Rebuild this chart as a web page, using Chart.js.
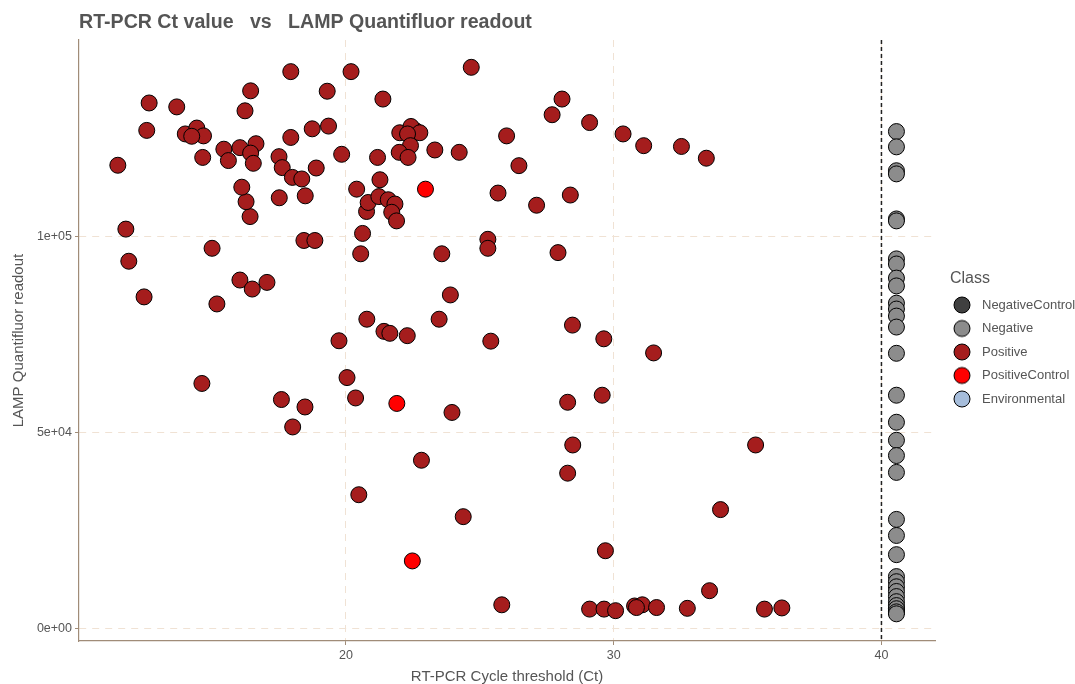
<!DOCTYPE html>
<html>
<head>
<meta charset="utf-8">
<script src="https://cdn.jsdelivr.net/npm/chart.js@4.4.1/dist/chart.umd.min.js"></script>
<style>
  html, body { margin: 0; padding: 0; background: #ffffff; }
  canvas { display: block; }
</style>
</head>
<body>
<canvas id="chart" width="1075" height="684"></canvas>
<script>
// ---- data -------------------------------------------------------------
const classNames  = ['NegativeControl', 'Negative', 'Positive', 'PositiveControl', 'Environmental'];
const classColors = ['#404040', '#8C8C8C', '#A51D1D', '#FF0000', '#A6BDDB'];

// Samples with no amplification are plotted at the cut-off column
const negativeCt = [40.56, 40.56, 40.56, 40.56, 40.56, 40.56, 40.56, 40.56, 40.56, 40.56, 40.56,
                    40.56, 40.56, 40.56, 40.56, 40.56, 40.56, 40.56, 40.56, 40.56, 40.56, 40.56,
                    40.56, 40.56, 40.56, 40.56, 40.56, 40.56, 40.56, 40.56, 40.56, 40.56, 40.56];
const negativeReadout = [126900, 123000, 116900, 116100, 104600, 104100, 94400, 93100, 89500, 87500, 83100,
                         81600, 79800, 77000, 70300, 59600, 52700, 48100, 44200, 39900, 27900, 23800,
                         18900, 13300, 12000, 10700, 9500, 8200, 6900, 5900, 5100, 4300, 3800];

const negativeControlCt = [40.56, 40.56];
const negativeControlReadout = [4300, 5100];

const positiveCt = [11.48, 11.78, 11.89, 12.46, 12.65, 12.56, 13.68, 14.00, 14.43, 14.68,
                    14.24, 14.65, 14.62, 15.00, 15.18, 15.44, 15.61, 16.04, 16.04, 16.23,
                    16.44, 16.64, 16.44, 16.54, 16.50, 17.05, 16.42, 16.27, 16.11, 17.50,
                    17.62, 18.00, 18.35, 18.89, 17.51, 18.48, 17.94, 17.94, 18.74, 19.30,
                    19.35, 19.84, 20.19, 17.59, 18.47, 18.01, 18.43, 18.84, 19.74, 20.04,
                    20.40, 20.62, 20.55, 20.36, 20.48, 20.78, 20.77, 20.83, 21.23, 21.27,
                    21.18, 21.38, 21.42, 21.64, 21.58, 21.83, 21.71, 21.89, 22.01, 22.43,
                    22.76, 22.30, 22.41, 21.99, 22.32, 22.29, 23.32, 24.23, 23.48, 23.58,
                    23.90, 23.96, 22.82, 24.38, 24.68, 25.30, 25.30, 25.41, 25.68, 26.00,
                    26.46, 27.12, 27.70, 28.07, 27.92, 28.38, 28.46, 28.28, 28.47, 28.28,
                    29.10, 29.63, 29.57, 29.69, 30.35, 31.12, 31.49, 32.53, 33.46, 33.58,
                    33.99, 35.30, 29.10, 29.64, 30.07, 30.78, 31.07, 30.85, 31.60, 32.75,
                    35.63, 36.28, 25.82];
const positiveReadout = [118300, 102000, 93800, 84700, 134200, 127200, 133200, 126300, 127800, 125800,
                         125700, 120300, 62600, 97100, 82900, 122400, 119500, 122800, 89000, 132200,
                         137300, 123800, 121400, 118800, 86700, 88400, 105200, 109000, 112700, 120500,
                         117700, 115200, 114800, 117600, 110000, 110500, 142200, 125400, 127600, 137200,
                         128300, 121100, 142200, 58500, 56600, 51500, 99100, 99100, 73500, 64100,
                         112200, 100900, 95700, 58900, 34200, 79000, 106500, 108800, 110300, 114600,
                         120300, 135200, 75900, 75400, 109500, 108400, 106300, 104100, 126600, 128200,
                         126600, 126300, 123300, 121600, 120300, 74800, 122200, 121600, 79000, 95700,
                         85200, 55200, 43000, 28600, 143300, 99400, 97100, 73400, 111200, 125800,
                         118200, 108100, 131200, 135200, 96000, 110700, 77500, 57800, 46900, 39700,
                         129200, 74000, 59600, 19900, 126300, 123300, 70400, 123100, 120100, 9700,
                         30400, 46900, 5000, 5000, 4600, 5800, 6100, 5400, 5400, 5200,
                         5000, 5300, 6100];

const positiveControlCt = [22.61, 22.97, 21.90, 22.48];
const positiveControlReadout = [127100, 112200, 57500, 17300];

const environmentalCt = [];
const environmentalReadout = [];

const ctCutoff = 40;
const xTickValues = [20, 30, 40];
const xTickLabels = ['20', '30', '40'];
const yTickValues = [0, 50000, 100000];
const yTickLabels = ['0e+00', '5e+04', '1e+05'];

// ---- helpers ----------------------------------------------------------
const toPoints = (xs, ys) => xs.map((x, i) => ({ x: x, y: ys[i] }));

const textGrey = '#555555';
const axisColor = '#A08C78';
const gridColor = '#F0E2D4';
const panelRight = 935;     // right edge of the plot panel, px

// legend swatch: a bordered circle, drawn left of the image centre
function legendDot(color) {
  const c = document.createElement('canvas');
  c.width = 40; c.height = 20;
  const g = c.getContext('2d');
  g.beginPath();
  g.arc(14, 10, 8, 0, Math.PI * 2);
  g.fillStyle = color;
  g.fill();
  g.lineWidth = 1;
  g.strokeStyle = '#000000';
  g.stroke();
  return c;
}

function classDataset(idx, xs, ys, order) {
  return {
    label: classNames[idx],
    data: toPoints(xs, ys),
    backgroundColor: classColors[idx],
    borderColor: '#000000',
    borderWidth: 1,
    pointRadius: 8,
    pointHoverRadius: 8,
    order: order
  };
}

// dashed vertical reference line at the Ct cut-off
const cutoffLine = {
  id: 'cutoffLine',
  beforeDatasetsDraw(chart) {
    const { ctx, chartArea, scales } = chart;
    const px = scales.x.getPixelForValue(ctCutoff);
    ctx.save();
    ctx.strokeStyle = '#222222';
    ctx.lineWidth = 1.5;
    ctx.setLineDash([4, 3]);
    ctx.beginPath();
    ctx.moveTo(px, chartArea.top);
    ctx.lineTo(px, chartArea.bottom);
    ctx.stroke();
    ctx.restore();
  }
};

// the legend box is sized to reach the canvas edge so the plot panel ends at panelRight;
// its content then starts a small gap after the panel
const legendGap = {
  id: 'legendGap',
  afterLayout(chart) {
    const lg = chart.legend;
    if (!lg) return;
    lg.left = chart.chartArea.right + 15;
    lg.width = lg.right - lg.left;
  }
};
const legendFit = {
  id: 'legendFit',
  afterInit(chart) {
    const lg = chart.legend;
    if (!lg) return;
    const baseFit = lg.fit.bind(lg);
    lg.fit = function () {
      baseFit();
      this.width = chart.width - panelRight;
    };
  }
};

Chart.defaults.font.family = "'Liberation Sans', Arial, sans-serif";
Chart.defaults.color = textGrey;

new Chart(document.getElementById('chart'), {
  type: 'scatter',
  data: {
    datasets: [
      classDataset(0, negativeControlCt, negativeControlReadout, 4),
      classDataset(1, negativeCt, negativeReadout, 1),
      classDataset(2, positiveCt, positiveReadout, 0),
      classDataset(3, positiveControlCt, positiveControlReadout, 3),
      classDataset(4, environmentalCt, environmentalReadout, 2)
    ]
  },
  options: {
    responsive: false,
    animation: false,
    layout: { padding: { left: 0, right: 0, top: 0, bottom: 0 } },
    scales: {
      x: {
        type: 'linear',
        min: 10.03,
        max: 42.0,
        afterBuildTicks: (scale) => { scale.ticks = xTickValues.map(v => ({ value: v })); },
        afterFit: (scale) => { scale.height = 43; },
        ticks: {
          autoSkip: false,
          maxRotation: 0,
          padding: 3,
          color: textGrey,
          font: { size: 12.5 },
          callback: (v, i) => xTickLabels[i]
        },
        grid: {
          color: gridColor,
          lineWidth: 1,
          drawTicks: true,
          tickLength: 4,
          tickColor: axisColor,
          tickWidth: 1
        },
        border: { display: true, color: axisColor, width: 1.2, dash: [7, 6] },
        title: {
          display: true,
          text: 'RT-PCR Cycle threshold (Ct)',
          color: textGrey,
          font: { size: 15, lineHeight: 1 },
          padding: { top: 0, bottom: 0 }
        }
      },
      y: {
        type: 'linear',
        min: -3140,
        max: 150270,
        afterBuildTicks: (scale) => { scale.ticks = yTickValues.map(v => ({ value: v })); },
        afterFit: (scale) => { scale.width = 79; },
        ticks: {
          autoSkip: false,
          padding: 3,
          color: textGrey,
          font: { size: 12.5 },
          callback: (v, i) => yTickLabels[i]
        },
        grid: {
          color: gridColor,
          lineWidth: 1,
          drawTicks: true,
          tickLength: 4,
          tickColor: axisColor,
          tickWidth: 1
        },
        border: { display: true, color: axisColor, width: 1.2, dash: [7, 6] },
        title: {
          display: true,
          text: 'LAMP Quantifluor readout',
          color: textGrey,
          font: { size: 15, lineHeight: 1 },
          padding: { top: 11, bottom: 0 }
        }
      }
    },
    plugins: {
      title: {
        display: true,
        text: 'RT-PCR Ct value   vs   LAMP Quantifluor readout',
        align: 'start',
        fullSize: false,
        color: textGrey,
        font: { size: 19.6, weight: 'bold', lineHeight: 1.2 },
        padding: { top: 11, bottom: 5.5 }
      },
      legend: {
        position: 'right',
        align: 'center',
        title: {
          display: true,
          text: 'Class',
          position: 'start',
          color: textGrey,
          font: { size: 16, lineHeight: 1 },
          padding: { top: 3, bottom: 1 }
        },
        labels: {
          usePointStyle: true,
          pointStyleWidth: 15,
          padding: 10.5,
          color: textGrey,
          font: { size: 13 },
          generateLabels: (chart) => chart.data.datasets.map((ds, i) => ({
            text: ds.label,
            fillStyle: ds.backgroundColor,
            strokeStyle: '#000000',
            lineWidth: 1,
            pointStyle: legendDot(ds.backgroundColor),
            hidden: !chart.isDatasetVisible(i),
            datasetIndex: i,
            fontColor: textGrey
          }))
        }
      },
      tooltip: { enabled: false }
    }
  },
  plugins: [cutoffLine, legendFit, legendGap]
});
</script>
</body>
</html>
